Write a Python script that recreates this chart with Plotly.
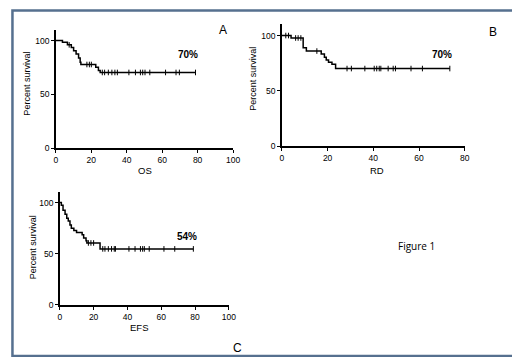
import plotly.graph_objects as go

W, H = 520, 357

# ---- data ----
os_t = [0, 3.7, 6.5, 8.7, 10, 11.4, 12.8, 13.7, 14.1, 22.5, 24, 25, 79]
os_s = [100, 98.4, 96, 93.6, 90.5, 87.4, 83.8, 79.8, 77.7, 75.2, 72.2, 70.3, 70.3]
os_cens = [7.5, 17.5, 18.9, 20, 26.2, 27.5, 29.6, 31.6, 33.3, 34.7, 41.2, 44.9,
           47.7, 49.0, 50.3, 53.0, 61.9, 67.8, 69.7, 78.8]

rd_t = [0, 4, 9.3, 10.7, 17.2, 18.6, 19.4, 20.4, 21.9, 23.5, 73.5]
rd_s = [100, 97.8, 89, 86, 83.4, 80.4, 78, 75.8, 74, 70.2, 70.2]
rd_cens = [1.7, 2.9, 6, 7.1, 8.3, 15.3, 28.5, 30.4, 36.3, 40.4, 41.5, 42.6, 43.3,
           46.5, 48.7, 49.7, 56.5, 61.5, 73.5]

efs_t = [0, 0.9, 1.9, 3.1, 4.1, 5, 6, 6.8, 8.3, 9.9, 13.2, 14.1, 15.5, 16, 23.8, 79]
efs_s = [100, 97.4, 92.6, 88.7, 84.6, 82, 78, 74.9, 72.6, 70.7, 68.5, 65.3, 62.7,
         60.5, 54.7, 54.7]
efs_cens = [16.9, 18.4, 20, 25.4, 26.7, 28.7, 30.6, 32.2, 32.9, 40.9, 44.5, 47.7,
            49, 50, 52.9, 61.6, 68, 79]

y_ticks = [0, 50, 100]
panels = [
    ("A", os_t, os_s, os_cens, 100, [0, 20, 40, 60, 80, 100], (46.7, 227.0), (142.0, 22.1), 110, "OS", "70%"),
    ("B", rd_t, rd_s, rd_cens, 80, [0, 20, 40, 60, 80], (276.7, 462.7), (140.3, 16.7), 110, "RD", "70%"),
    ("C", efs_t, efs_s, efs_cens, 100, [0, 20, 40, 60, 80, 100], (50.7, 222.7), (301.0, 187.0), 110, "EFS", "54%"),
]


def surv_at(ts, ss, t):
    v = ss[0]
    for ti, si in zip(ts, ss):
        if ti <= t:
            v = si
    return v


fig = go.Figure()
FONT = "Liberation Sans, Arial, sans-serif"
layout = dict(width=W, height=H, margin=dict(l=0, r=0, t=0, b=0),
              paper_bgcolor="white", plot_bgcolor="white", showlegend=False)

for i, (name, ts, ss, cens, xmax, xt, dx, dy, ytop, xlab, pct) in enumerate(panels):
    n = "" if i == 0 else str(i + 1)
    fig.add_trace(go.Scatter(x=ts, y=ss, mode="lines", line=dict(color="black", width=1.5, shape="hv"),
                             xaxis="x" + n, yaxis="y" + n, hoverinfo="skip"))
    fig.add_trace(go.Scatter(x=cens, y=[surv_at(ts, ss, c) for c in cens], mode="markers",
                             marker=dict(symbol="line-ns-open", size=4, color="black",
                                         line=dict(color="black", width=1)),
                             xaxis="x" + n, yaxis="y" + n, hoverinfo="skip"))
    ax = dict(domain=[dx[0] / W, dx[1] / W], range=[0, xmax], tickvals=xt, showline=True,
              linecolor="black", linewidth=1.5, ticks="outside", ticklen=3, tickwidth=1.2,
              tickcolor="black", showgrid=False, zeroline=False,
              tickfont=dict(family=FONT, size=8.5, color="black"),
              anchor="y" + n, fixedrange=True)
    ay = dict(domain=[1 - dy[0] / H, 1 - dy[1] / H], range=[0, ytop], tickvals=y_ticks, showline=True,
              linecolor="black", linewidth=1.5, ticks="outside", ticklen=3, tickwidth=1.2,
              tickcolor="black", showgrid=False, zeroline=False,
              tickfont=dict(family=FONT, size=8.5, color="black"),
              anchor="x" + n, fixedrange=True)
    layout["xaxis" + n] = ax
    layout["yaxis" + n] = ay

fig.update_layout(**layout)


def ann(text, x, y, size, bold=False, angle=0, family=FONT):
    fig.add_annotation(text=("<b>%s</b>" % text) if bold else text, x=x / W, y=1 - y / H,
                       xref="paper", yref="paper", showarrow=False, textangle=angle,
                       font=dict(family=family, size=size, color="black"),
                       xanchor="center", yanchor="middle")


ann("A", 217, 22, 12)
ann("B", 491.5, 24, 12)
ann("C", 232, 345, 12)
ann("70%", 181, 47, 10, bold=True)
ann("70%", 440, 47, 10, bold=True)
ann("54%", 180, 231.5, 10, bold=True)
ann("OS", 137, 165, 9.5)
ann("RD", 373, 165, 9.5)
ann("EFS", 131.5, 324, 9.5)
ann("Percent survival", 17, 77, 9, angle=-90)
ann("Percent survival", 247, 72, 9, angle=-90)
ann("Percent survival", 23, 243, 9, angle=-90)
ann("Figure 1", 414, 241, 10, family="Open Sans, Noto Sans, sans-serif")

fig.add_shape(type="rect", xref="paper", yref="paper", x0=2.5 / W, x1=514 / W, y0=1 - 353 / H, y1=1 - 2.5 / H,
              line=dict(color="#56708F", width=2.5), fillcolor="rgba(0,0,0,0)")

fig.write_html("out.html")
